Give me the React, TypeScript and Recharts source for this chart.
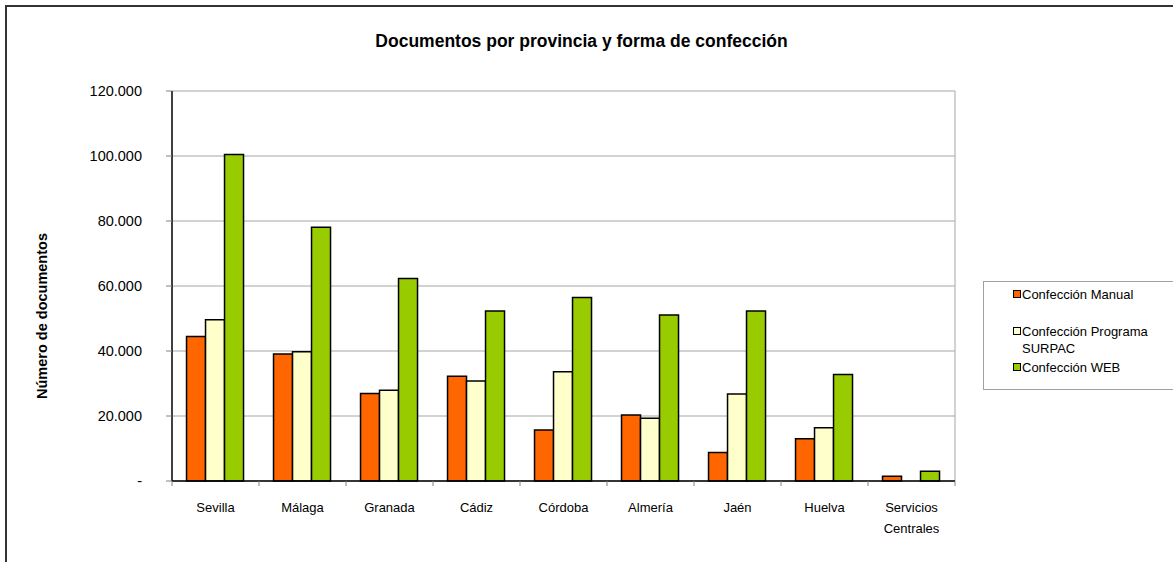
import { Bar, BarChart, CartesianGrid, XAxis, YAxis } from "recharts"

const provincias = [
  "Sevilla",
  "Málaga",
  "Granada",
  "Cádiz",
  "Córdoba",
  "Almería",
  "Jaén",
  "Huelva",
  "Servicios Centrales",
]
const manual = [44500, 39100, 26900, 32200, 15700, 20300, 8800, 13000, 1500]
const surpac = [49600, 39800, 27900, 30800, 33600, 19300, 26800, 16400, null]
const web = [100500, 78100, 62300, 52300, 56500, 51100, 52300, 32800, 3000]
const yTicks = [0, 20000, 40000, 60000, 80000, 100000, 120000]

const series = [
  { key: "manual", name: "Confección Manual", color: "#ff6600" },
  { key: "surpac", name: "Confección Programa SURPAC", color: "#ffffcc" },
  { key: "web", name: "Confección WEB", color: "#99cc00" },
]

const data = provincias.map((p, i) => ({
  provincia: p,
  manual: manual[i],
  surpac: surpac[i],
  web: web[i],
}))

const W = 1173
const H = 562
const X_AXIS_H = 30
const Y_AXIS_W = 60
const M = { top: 91, right: 218, bottom: 81 - X_AXIS_H, left: 172 - Y_AXIS_W }
const BAND = (W - M.left - Y_AXIS_W - M.right) / provincias.length
const FONT = "'Liberation Sans', Arial, sans-serif"

const fmt = (v: number) =>
  v === 0 ? "-" : v.toString().replace(/\B(?=(\d{3})+(?!\d))/g, ".")

function CategoryTick({ x, y, payload, index }: any) {
  const words = payload.value.includes(" ") ? payload.value.split(" ") : [payload.value]
  const axisY = y - 6
  return (
    <g>
      <line x1={x - BAND / 2} x2={x - BAND / 2} y1={axisY} y2={axisY + 5} stroke="#808080" />
      {index === provincias.length - 1 && (
        <line x1={x + BAND / 2} x2={x + BAND / 2} y1={axisY} y2={axisY + 5} stroke="#808080" />
      )}
      <text x={x} y={y + 25} textAnchor="middle" fontSize={13} fill="#000" fontFamily={FONT}>
        {words.map((w: string, i: number) => (
          <tspan key={i} x={x} dy={i === 0 ? 0 : 21}>
            {w}
          </tspan>
        ))}
      </text>
    </g>
  )
}

function LegendBox() {
  const rows = [
    { s: series[0], y: 14, lines: ["Confección Manual"] },
    { s: series[1], y: 51, lines: ["Confección Programa", "SURPAC"] },
    { s: series[2], y: 87, lines: ["Confección WEB"] },
  ]
  return (
    <div
      style={{
        position: "absolute",
        left: 983,
        top: 281,
        width: 200,
        height: 107,
        border: "1px solid #a0a0a0",
        borderRight: "none",
        background: "#fff",
        fontFamily: FONT,
        fontSize: 13,
        color: "#000",
      }}
    >
      {rows.map(({ s, y, lines }) => (
        <div key={s.key}>
          <div
            style={{
              position: "absolute",
              left: 29,
              top: y - 6,
              width: 6,
              height: 6,
              border: "1px solid #000",
              background: s.color,
            }}
          />
          <div style={{ position: "absolute", left: 38, top: y - 10, lineHeight: "17px" }}>
            {lines.map((l) => (
              <div key={l}>{l}</div>
            ))}
          </div>
        </div>
      ))}
    </div>
  )
}

export default function App() {
  return (
    <div
      style={{
        position: "absolute",
        left: 0,
        top: 0,
        width: W,
        height: H,
        background: "#fff",
        overflow: "hidden",
        fontFamily: FONT,
      }}
    >
      <div
        style={{
          position: "absolute",
          left: 5,
          top: 5,
          width: W,
          height: H + 20,
          border: "2px solid #333",
          boxSizing: "border-box",
        }}
      />
      <div
        style={{
          position: "absolute",
          left: 0,
          width: W - 10,
          top: 31,
          textAlign: "center",
          fontWeight: "bold",
          fontSize: 17.5,
        }}
      >
        Documentos por provincia y forma de confección
      </div>
      <div
        style={{
          position: "absolute",
          left: 42,
          top: 316,
          transform: "translate(-50%, -50%) rotate(-90deg)",
          whiteSpace: "nowrap",
          fontWeight: "bold",
          fontSize: 14.5,
        }}
      >
        Número de documentos
      </div>
      <div style={{ position: "absolute", left: 0, top: 0 }}>
        <BarChart
          width={W}
          height={H}
          data={data}
          margin={M}
          barGap={0}
          barCategoryGap="16.7%"
        >
          <CartesianGrid
            stroke="#a6a6a6"
            verticalCoordinatesGenerator={({ offset }: any) => [offset.left + offset.width]}
          />
          <XAxis
            dataKey="provincia"
            height={X_AXIS_H}
            interval={0}
            tickLine={false}
            tickSize={6}
            tickMargin={0}
            axisLine={{ stroke: "#000", strokeWidth: 1.5 }}
            tick={<CategoryTick />}
          />
          <YAxis
            width={Y_AXIS_W}
            domain={[0, 120000]}
            ticks={yTicks}
            tickFormatter={fmt}
            tickSize={6}
            tickMargin={24}
            tickLine={{ stroke: "#808080" }}
            axisLine={{ stroke: "#000", strokeWidth: 1.5 }}
            tick={{ fontSize: 14.5, fill: "#000", fontFamily: FONT }}
          />
          {series.map((s) => (
            <Bar
              key={s.key}
              dataKey={s.key}
              name={s.name}
              fill={s.color}
              stroke="#000"
              strokeWidth={1.5}
              isAnimationActive={false}
            />
          ))}
        </BarChart>
      </div>
      <LegendBox />
    </div>
  )
}
